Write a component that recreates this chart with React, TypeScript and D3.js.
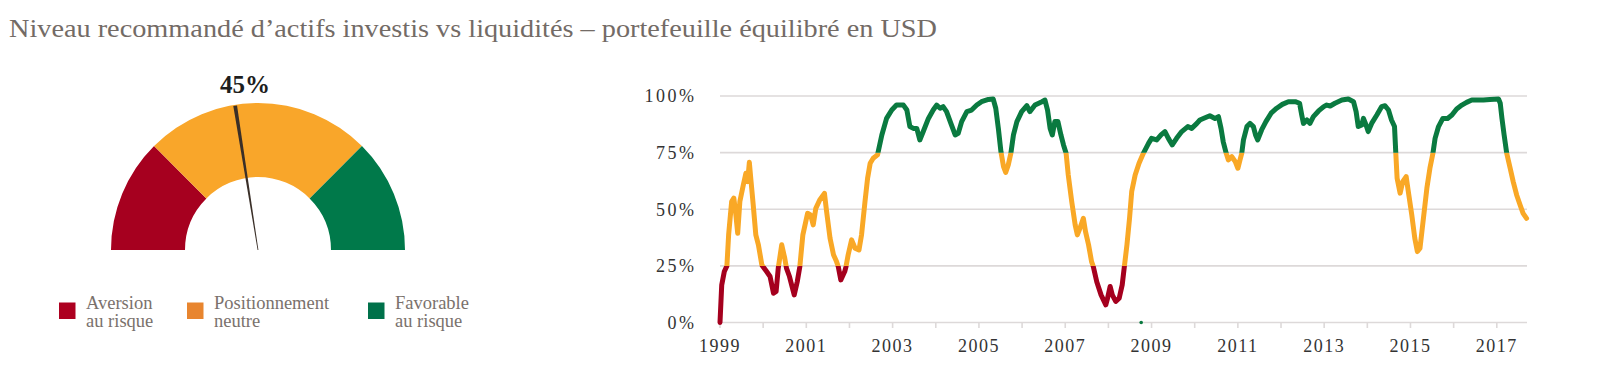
import * as d3 from "d3";

const title = "Niveau recommandé d\u2019actifs investis vs liquidités \u2013 portefeuille équilibré en USD";

// gauge
const gaugeValue = 45;
const gaugeBands = [0, 25, 75, 100];
const bandColors = ["#a6001f", "#f9a62a", "#00794a"];
const legendColors = ["#ad0020", "#e8852f", "#00714a"];
const legendLabels = [
  ["Aversion", "au risque"],
  ["Positionnement", "neutre"],
  ["Favorable", "au risque"],
];

// time series (decimal year, % invested)
const years = [
  1999.0, 1999.04, 1999.1, 1999.16, 1999.2, 1999.27, 1999.32, 1999.36, 1999.41, 1999.46,
  1999.54, 1999.6, 1999.64, 1999.68, 1999.72, 1999.77, 1999.83, 1999.89, 1999.97, 2000.08,
  2000.16, 2000.24, 2000.3, 2000.35, 2000.43, 2000.5, 2000.54, 2000.61, 2000.72, 2000.79,
  2000.85, 2000.92, 2001.03, 2001.1, 2001.16, 2001.22, 2001.31, 2001.42, 2001.47, 2001.55,
  2001.63, 2001.7, 2001.74, 2001.8, 2001.89, 2001.92, 2001.97, 2002.05, 2002.13, 2002.22,
  2002.28, 2002.36, 2002.42, 2002.48, 2002.55, 2002.65, 2002.75, 2002.86, 2002.98, 2003.09,
  2003.25, 2003.33, 2003.4, 2003.48, 2003.56, 2003.63, 2003.71, 2003.83, 2003.94, 2004.02,
  2004.1, 2004.17, 2004.25, 2004.35, 2004.45, 2004.52, 2004.6, 2004.72, 2004.83, 2004.95,
  2005.06, 2005.22, 2005.33, 2005.39, 2005.45, 2005.51, 2005.57, 2005.62, 2005.68, 2005.74,
  2005.8, 2005.88, 2005.99, 2006.11, 2006.18, 2006.3, 2006.46, 2006.53, 2006.59, 2006.65,
  2006.7, 2006.76, 2006.83, 2006.9, 2006.96, 2007.02, 2007.07, 2007.15, 2007.23, 2007.28,
  2007.34, 2007.42, 2007.47, 2007.54, 2007.61, 2007.65, 2007.73, 2007.83, 2007.94, 2007.98,
  2008.04, 2008.09, 2008.17, 2008.25, 2008.32, 2008.37, 2008.43, 2008.49, 2008.54, 2008.62,
  2008.71, 2008.81, 2008.93, 2009.0, 2009.12, 2009.22, 2009.31, 2009.39, 2009.48, 2009.58,
  2009.7, 2009.84, 2009.93, 2010.05, 2010.12, 2010.24, 2010.35, 2010.47, 2010.55, 2010.61,
  2010.66, 2010.73, 2010.78, 2010.86, 2010.94, 2011.0, 2011.05, 2011.09, 2011.13, 2011.21,
  2011.28, 2011.36, 2011.41, 2011.46, 2011.55, 2011.65, 2011.77, 2011.9, 2012.03, 2012.17,
  2012.33, 2012.43, 2012.48, 2012.52, 2012.6, 2012.67, 2012.75, 2012.87, 2012.99, 2013.06,
  2013.14, 2013.25, 2013.41, 2013.56, 2013.68, 2013.74, 2013.79, 2013.87, 2013.91, 2013.97,
  2014.02, 2014.1, 2014.22, 2014.33, 2014.41, 2014.49, 2014.56, 2014.63, 2014.66, 2014.69,
  2014.76, 2014.82, 2014.9, 2014.95, 2015.03, 2015.1, 2015.16, 2015.22, 2015.3, 2015.38,
  2015.45, 2015.52, 2015.57, 2015.65, 2015.75, 2015.86, 2015.96, 2016.07, 2016.19, 2016.3,
  2016.42, 2016.69, 2016.84, 2017.04, 2017.08, 2017.12, 2017.17, 2017.23, 2017.31, 2017.38,
  2017.46, 2017.54, 2017.61, 2017.69,
];
const levels = [
  0, 16.6, 22.5, 25, 38.7, 53.4, 54.9, 49, 39.4, 53.4,
  60.7, 65.9, 62.2, 70.7, 62.2, 51.9, 38.7, 34.3, 25.4, 22.5,
  20.3, 12.9, 13.7, 24, 34.3, 28.4, 24, 20.3, 12.2, 18,
  24.7, 38.7, 48.2, 47.5, 43.1, 50.4, 54.1, 57, 49, 37.2,
  29.9, 26.9, 24.7, 18.8, 22.5, 24.7, 29.9, 36.5, 32.8, 32,
  38.7, 53.4, 63.7, 70.3, 72.5, 74, 82.8, 90.1, 93.8, 96,
  96, 93.8, 86.5, 85.7, 85.7, 80.6, 84.3, 90.1, 93.8, 96,
  94.6, 95.3, 93.1, 87.9, 82.8, 83.5, 88.7, 93.1, 93.8, 96,
  97.5, 98.5, 98.7, 94.6, 85.7, 75.4, 68.8, 66.3, 69.6, 74.7,
  82.8, 88.7, 93.1, 95.7, 93.1, 96, 97.5, 98.2, 93.8, 85.7,
  82.8, 88.7, 88.7, 82.8, 78.4, 74.7, 65.1, 53.4, 43.1, 38.7,
  41.6, 46, 40.1, 34.3, 26.9, 24.7, 18, 12.2, 7.8, 10.7,
  15.9, 12.2, 9.3, 10.7, 16.6, 24.7, 34.3, 46, 57.8, 65.1,
  70.3, 74.7, 79.1, 81.3, 80.6, 82.8, 84.3, 81.3, 78.4, 81.3,
  84.3, 86.5, 85.7, 87.9, 89.4, 90.4, 91.3, 90.1, 90.9, 85.7,
  79.9, 74.7, 71.8, 73.2, 71, 68.1, 71.8, 74.7, 80.6, 86.5,
  87.9, 86.5, 82.8, 80.6, 85, 88.7, 92.4, 94.6, 96.3, 97.5,
  97.5, 96.8, 91.6, 87.9, 89.4, 87.9, 90.9, 93.4, 95.3, 96,
  95.6, 96.8, 98.2, 98.7, 97.5, 93.1, 86.5, 87.2, 90.1, 87.2,
  84.3, 87.9, 91.6, 95.3, 95.7, 93.8, 89.4, 86.5, 74.7, 63.7,
  57.1, 62.2, 64.4, 57.8, 47.5, 37.2, 31.3, 32.8, 46, 59.3,
  68.1, 74.7, 81.3, 86.5, 90.1, 90.1, 91.6, 94.3, 96, 97.2,
  98.2, 98.2, 98.5, 98.7, 96.8, 90.1, 82.8, 74.7, 68.1, 62.2,
  56.3, 51.9, 48.2, 46,
];
const strayPoints = [[2008.76, 0]];

const yTicks = [0, 25, 50, 75, 100];
const thresholds = [25, 75];
const lineColors = ["#a5001e", "#f9a826", "#0a7a40"];

const FONT = "'Liberation Serif', 'DejaVu Serif', serif";

export default function App() {
  const x = d3.scaleLinear().domain([1999, 2017.7]).range([720, 1527]);
  const y = d3.scaleLinear().domain([0, 100]).range([322.5, 96]);
  const yearTicks = d3.range(1999, 2018);

  const pts = years.map((yr, i) => [yr, levels[i]] as [number, number]);
  const line = d3
    .line<[number, number]>()
    .x((d) => x(d[0]))
    .y((d) => y(d[1]));
  const pathD = line(pts) || "";

  // colour bands for the line (clip regions)
  const bandEdges = [0, ...thresholds, 100];
  const clips = lineColors.map((c, i) => {
    const lo = bandEdges[i];
    const hi = bandEdges[i + 1];
    const top = hi === 100 ? 0 : y(hi);
    const bottom = lo === 0 ? 375 : y(lo);
    return { id: `band${i}`, color: c, top, bottom };
  });

  // gauge
  const cx = 258;
  const cy = 250;
  const rOuter = 147;
  const rInner = 73;
  const ang = d3.scaleLinear().domain([0, 100]).range([-Math.PI / 2, Math.PI / 2]);
  const arc = d3.arc<any>().innerRadius(rInner).outerRadius(rOuter);
  const a = ang(gaugeValue);
  const rNeedle = 146;
  const tipX = cx + rNeedle * Math.sin(a);
  const tipY = cy - rNeedle * Math.cos(a);
  const px = Math.cos(a);
  const py = Math.sin(a);
  const wTip = 1.9;
  const wBase = 0.4;
  const needle = [
    [cx - px * wBase, cy - py * wBase],
    [tipX - px * wTip, tipY - py * wTip],
    [tipX + px * wTip, tipY + py * wTip],
    [cx + px * wBase, cy + py * wBase],
  ]
    .map((p) => p.join(","))
    .join(" ");

  const legendX = [59, 187, 368];

  return (
    <svg
      width={1600}
      height={375}
      style={{ position: "absolute", left: 0, top: 0, background: "#fff" }}
      fontFamily={FONT}
    >
      <defs>
        {clips.map((c) => (
          <clipPath id={c.id} key={c.id}>
            <rect x={700} y={c.top} width={860} height={c.bottom - c.top} />
          </clipPath>
        ))}
      </defs>

      <text x={9} y={36.5} fontSize={25.5} fill="#736b66" textLength={928} lengthAdjust="spacingAndGlyphs">
        {title}
      </text>

      {/* gauge */}
      <g>
        {bandColors.map((c, i) => (
          <path
            key={i}
            transform={`translate(${cx},${cy})`}
            d={arc({ startAngle: ang(gaugeBands[i]), endAngle: ang(gaugeBands[i + 1]) }) || ""}
            fill={c}
          />
        ))}
        <polygon points={needle} fill="#3a2f28" />
        <text x={245} y={93} fontSize={25} textAnchor="middle" fill="#1e1e1e" fontWeight="bold">
          {gaugeValue}%
        </text>
      </g>

      {/* legend */}
      {legendLabels.map((lines, i) => (
        <g key={i}>
          <rect x={legendX[i]} y={302.5} width={16.5} height={16.5} fill={legendColors[i]} />
          {lines.map((t, j) => (
            <text key={j} x={legendX[i] + 27} y={308.5 + j * 18.5} fontSize={18.5} fill="#7a716c">
              {t}
            </text>
          ))}
        </g>
      ))}

      {/* line chart grid */}
      {yTicks.map((t) => (
        <g key={t}>
          <line x1={x(1999)} x2={x(2017.7)} y1={y(t)} y2={y(t)} stroke="#ddd9d9" strokeWidth={1.6} />
          <text
            x={696.5}
            y={y(t)}
            dy="0.35em"
            textAnchor="end"
            fontSize={18}
            letterSpacing={2.5}
            fill="#333"
          >
            {t}%
          </text>
        </g>
      ))}
      {yearTicks.map((yr) => (
        <line key={yr} x1={x(yr)} x2={x(yr)} y1={y(0)} y2={y(0) + 5.5} stroke="#ddd9d9" strokeWidth={1.6} />
      ))}
      {yearTicks
        .filter((yr) => yr % 2 === 1)
        .map((yr) => (
          <text
            key={yr}
            x={x(yr)}
            y={352}
            textAnchor="middle"
            fontSize={18}
            letterSpacing={1.5}
            fill="#333"
          >
            {yr}
          </text>
        ))}

      {/* coloured line */}
      {clips.map((c) => (
        <path
          key={c.id}
          d={pathD}
          fill="none"
          stroke={c.color}
          strokeWidth={5}
          strokeLinejoin="round"
          strokeLinecap="round"
          clipPath={`url(#${c.id})`}
        />
      ))}
      {strayPoints.map((p, i) => (
        <circle key={i} cx={x(p[0])} cy={y(p[1])} r={1.8} fill={lineColors[2]} />
      ))}
    </svg>
  );
}
